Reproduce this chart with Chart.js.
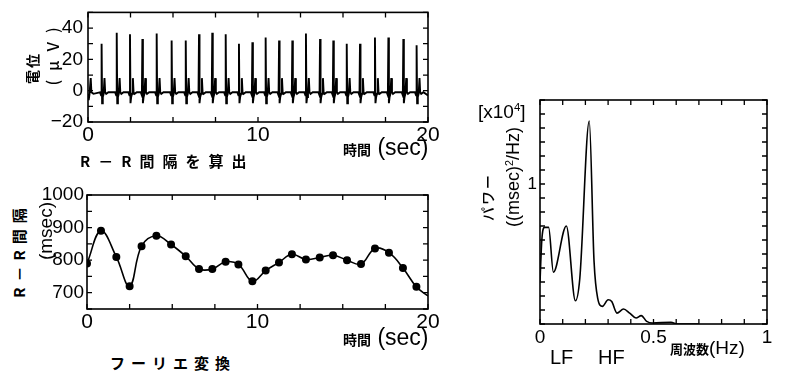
<!DOCTYPE html>
<html>
<head>
<meta charset="utf-8">
<script src="https://cdn.jsdelivr.net/npm/chart.js@4"></script>
<style>
  body { margin: 0; background: #fff; width: 791px; height: 376px; position: relative; overflow: hidden;
         font-family: "Liberation Sans", Arial, sans-serif; color: #000; }
  canvas { position: absolute; }
  .t { position: absolute; white-space: nowrap; line-height: 1; transform: translateY(-50%); }
  .rot { transform: translate(-50%, -50%) rotate(-90deg); }
  .jp { font-family: "Noto Sans CJK JP", sans-serif; font-weight: 700; }
  sup { font-size: 60%; vertical-align: 0.55em; line-height: 0; }
</style>
</head>
<body>
<canvas id="ecg" width="410" height="154" style="left:40px;top:-4px"></canvas>
<canvas id="rr" width="410" height="160" style="left:40px;top:180px"></canvas>
<canvas id="spec" width="291" height="280" style="left:500px;top:80px"></canvas>

<div class="t rot jp" style="left:32px;top:68px;font-size:14px;letter-spacing:2px">電位</div>
<div class="t rot jp" style="left:52px;top:52px;font-size:16px;letter-spacing:9px;font-weight:500">(μV)</div>
<div class="t" style="left:343px;top:147px;font-size:23px"><span class="jp" style="font-size:14px">時間</span> (sec)</div>
<div class="t jp" style="left:80px;top:160px;font-size:15px;letter-spacing:8px">R－R間隔を算出</div>

<div class="t rot jp" style="left:18px;top:250px;font-size:15px;letter-spacing:6px">R－R間隔</div>
<div class="t rot" style="left:45px;top:231px;font-size:19px">(msec)</div>
<div class="t" style="left:343px;top:337px;font-size:23px"><span class="jp" style="font-size:14px">時間</span> (sec)</div>
<div class="t jp" style="left:110px;top:362px;font-size:15px;letter-spacing:6px">フーリエ変換</div>

<div class="t" style="left:478px;top:111px;font-size:19px">[x10<sup>4</sup>]</div>
<div class="t rot jp" style="left:487px;top:197px;font-size:14px;letter-spacing:2px;font-weight:500">パワー</div>
<div class="t rot" style="left:513px;top:177px;font-size:18px">((msec)<sup>2</sup>/Hz)</div>
<div class="t" style="left:670px;top:347px;font-size:19px"><span class="jp" style="font-size:13px">周波数</span>(Hz)</div>
<div class="t" style="left:550px;top:357px;font-size:20px">LF</div>
<div class="t" style="left:598px;top:357px;font-size:20px">HF</div>

<script>
// ECG: R peak times (sec) and heights (uV)
const ecgBeatTimes = [0.80, 1.69, 2.47, 3.20, 4.04, 4.92, 5.75, 6.53, 7.31, 8.10, 8.88, 9.67,
                      10.45, 11.24, 12.02, 12.82, 13.65, 14.43, 15.22, 16.00, 16.88, 17.67, 18.55, 19.33];
const ecgBeatPeaks = [30, 37, 36, 33, 36.5, 32, 32, 36, 37, 36, 30, 31,
                      34, 32, 32, 36.5, 33, 32, 30, 30, 34, 34, 33, 29];
// one beat around its R peak: offset (sec) and level (uV); null = the R peak
const beatOffsets = [-0.10, -0.03, 0, 0.03, 0.07, 0.12, 0.17, 0.21, 0.27, 0.40];
const beatLevels = [-1, -3, null, -8, -4, -2, 8, -1, -2, -1];
// start and end of the trace
const ecgLeadIn = [[0, -2], [0.04, -6], [0.09, -2], [0.16, 8], [0.20, -1], [0.32, -2]];
const ecgTail = [[20, -3]];

// R-R intervals (msec) at each beat
const rrTimes = [0, 0.82, 1.72, 2.50, 3.20, 4.07, 4.93, 5.79, 6.57, 7.35, 8.13, 8.88, 9.70,
                 10.48, 11.26, 12.02, 12.84, 13.65, 14.43, 15.25, 16.07, 16.89, 17.71, 18.53, 19.32, 20];
const rrValues = [790, 890, 810, 720, 843, 875, 848, 812, 773, 773, 795, 787, 735,
                  768, 793, 818, 802, 808, 815, 800, 788, 836, 823, 776, 718, 690];

// power spectrum (x10^4 msec^2/Hz)
const specFreq = [0, 0.008, 0.02, 0.038, 0.059, 0.116, 0.156, 0.175, 0.217, 0.238, 0.254, 0.275,
                  0.30, 0.316, 0.339, 0.368, 0.395, 0.423, 0.446, 0.47, 0.495, 0.577, 0.606, 0.7];
const specPower = [0.3, 0.6, 0.69, 0.69, 0.37, 0.70, 0.166, 0.32, 1.45, 0.45, 0.185, 0.126,
                   0.173, 0.16, 0.078, 0.107, 0.078, 0.043, 0.06, 0.019, 0.007, 0.012, 0, 0];

// tick labels
const ecgXLabels = [0, 10, 20];
const ecgYLabels = [-20, 0, 20, 40];
const rrXLabels = [0, 10, 20];
const rrYLabels = [700, 800, 900, 1000];
const specXLabels = [0, 0.5, 1];
const specYLabels = [1];

// build ECG trace
const ecgPoints = ecgLeadIn.map(p => ({x: p[0], y: p[1]}));
ecgBeatTimes.forEach((t, i) => {
  beatOffsets.forEach((dt, j) => {
    const level = beatLevels[j] === null ? ecgBeatPeaks[i] : beatLevels[j];
    ecgPoints.push({x: t + dt, y: level});
  });
});
ecgTail.forEach(p => ecgPoints.push({x: p[0], y: p[1]}));

const rrPoints = rrTimes.map((t, i) => ({x: t, y: rrValues[i]}));
const specPoints = specFreq.map((f, i) => ({x: f, y: specPower[i]}));

// frame with inward ticks on all four sides
const framePlugin = {
  id: 'frame',
  afterDatasetsDraw(chart, args, opts) {
    const {ctx, chartArea: a} = chart;
    const x = chart.scales.x, y = chart.scales.y;
    ctx.save();
    ctx.strokeStyle = '#000';
    ctx.lineWidth = 1.6;
    ctx.strokeRect(a.left, a.top, a.right - a.left, a.bottom - a.top);
    ctx.lineWidth = 1.3;
    ctx.beginPath();
    const nx = Math.round((x.max - x.min) / opts.stepX);
    for (let i = 0; i <= nx; i++) {
      const p = x.getPixelForValue(x.min + i * opts.stepX);
      ctx.moveTo(p, a.bottom); ctx.lineTo(p, a.bottom - opts.len);
      ctx.moveTo(p, a.top); ctx.lineTo(p, a.top + opts.len);
    }
    const ny = Math.round((y.max - y.min) / opts.stepY);
    for (let i = 0; i <= ny; i++) {
      const p = y.getPixelForValue(y.min + i * opts.stepY);
      ctx.moveTo(a.left, p); ctx.lineTo(a.left + opts.len, p);
      ctx.moveTo(a.right, p); ctx.lineTo(a.right - opts.len, p);
    }
    ctx.stroke();
    ctx.restore();
  }
};

function makeScale(min, max, labels, fontSize, fit, isX, pad) {
  return {
    type: 'linear', min: min, max: max,
    grid: {display: false, drawTicks: false},
    border: {display: false},
    afterBuildTicks: s => { s.ticks = labels.map(v => ({value: v})); },
    afterFit: s => { if (isX) s.height = fit; else s.width = fit; },
    ticks: {
      color: '#000', padding: pad, maxRotation: 0, autoSkip: false,
      font: {family: '"Liberation Sans", Arial, sans-serif', size: fontSize},
      callback: v => String(v).replace('-', '\u2212')
    }
  };
}

function makeChart(id, points, line, scales, padding, frame) {
  new Chart(id, {
    type: 'line',
    data: {datasets: [Object.assign({data: points, borderColor: '#000', backgroundColor: '#000', fill: false}, line)]},
    options: {
      responsive: false, animation: false,
      layout: {padding: padding},
      scales: scales,
      plugins: {legend: {display: false}, tooltip: {enabled: false}, frame: frame}
    },
    plugins: [framePlugin]
  });
}

makeChart('ecg', ecgPoints,
  {borderWidth: 1.9, pointRadius: 0, tension: 0},
  {x: makeScale(0, 20, ecgXLabels, 21, 28, true, 1), y: makeScale(-20, 50, ecgYLabels, 19, 48, false, 5)},
  {left: 0, right: 22, top: 14, bottom: 0},
  {stepX: 2.5, stepY: 10, len: 5});

makeChart('rr', rrPoints,
  {borderWidth: 1.6, pointRadius: rrValues.map((v, i) => i === rrValues.length - 1 ? 0 : 3.2), tension: 0.4},
  {x: makeScale(0, 20, rrXLabels, 21, 31, true, 1), y: makeScale(650, 1000, rrYLabels, 19, 47, false, 3)},
  {left: 0, right: 22, top: 15, bottom: 0},
  {stepX: 2.5, stepY: 50, len: 5});

makeChart('spec', specPoints,
  {borderWidth: 1.6, pointRadius: 0, cubicInterpolationMode: 'monotone'},
  {x: makeScale(0, 1, specXLabels, 19, 36, true, 2), y: makeScale(0, 1.6, specYLabels, 17, 40, false, 3)},
  {left: 0, right: 24, top: 20, bottom: 0},
  {stepX: 0.1, stepY: 0.1, len: 5});
</script>
</body>
</html>
